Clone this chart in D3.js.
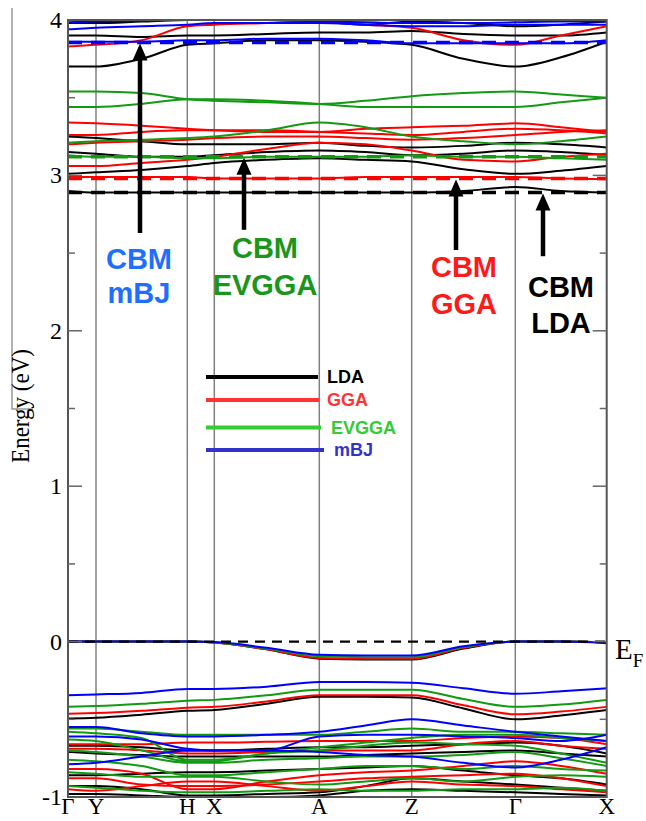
<!DOCTYPE html>
<html><head><meta charset="utf-8">
<script src="https://cdn.jsdelivr.net/npm/d3@7/dist/d3.min.js"></script>
<style>body{margin:0;background:#fff}svg{display:block}</style>
</head><body>
<svg id="chart" width="646" height="821"></svg>
<script>
// ---------- DATA ----------
const kLabels = ["Γ","Y","H","X","A","Z","Γ","X"];
const kTicks  = [0, 28, 119.3, 146.3, 251.3, 343.7, 447.3, 538.7];
// k-points at which band energies are sampled
const kGrid = [0, 28, 73.6, 119.3, 146.3, 198.8, 251.3, 297.5, 343.7, 395.5, 447.3, 493, 538.7];
const yTicks = [-1, 0, 1, 2, 3, 4];

const methods = ["LDA","GGA","EVGGA","mBJ"];
const cbmEnergy = [2.89, 2.98, 3.12, 3.855];

const ldaBands = [
  [-0.98,-0.98,-0.99,-1.0,-1.0,-1.0,-0.99,-0.96,-0.95,-0.96,-0.97,-0.98,-0.99],
  [-0.93,-0.93,-0.95,-0.99,-0.99,-0.98,-0.97,-0.93,-0.88,-0.90,-0.92,-0.94,-0.96],
  [-0.86,-0.86,-0.85,-0.84,-0.84,-0.83,-0.82,-0.81,-0.80,-0.83,-0.86,-0.88,-0.92],
  [-0.71,-0.72,-0.73,-0.74,-0.74,-0.74,-0.74,-0.73,-0.72,-0.71,-0.70,-0.72,-0.74],
  [-0.67,-0.67,-0.68,-0.70,-0.70,-0.69,-0.68,-0.68,-0.67,-0.66,-0.65,-0.67,-0.72],
  [-0.495,-0.49,-0.47,-0.445,-0.44,-0.40,-0.355,-0.355,-0.36,-0.43,-0.50,-0.475,-0.44],
  [0,0,0,0,-0.005,-0.05,-0.11,-0.115,-0.115,-0.045,0,0,-0.005],
  [2.90,2.89,2.89,2.89,2.89,2.89,2.89,2.89,2.89,2.90,2.925,2.90,2.89],
  [3.01,3.02,3.035,3.06,3.08,3.10,3.11,3.10,3.09,3.04,3.01,3.03,3.06],
  [3.15,3.14,3.12,3.12,3.13,3.15,3.16,3.15,3.13,3.14,3.16,3.15,3.13],
  [3.25,3.24,3.22,3.20,3.20,3.20,3.21,3.19,3.18,3.19,3.21,3.20,3.18],
  [3.70,3.70,3.75,3.84,3.85,3.87,3.87,3.86,3.84,3.75,3.70,3.76,3.86],
  [3.90,3.90,3.89,3.90,3.90,3.91,3.92,3.92,3.93,3.91,3.90,3.90,3.92],
  [3.98,3.98,3.99,4.0,4.0,4.0,3.99,3.97,3.99,3.98,3.96,3.97,3.99]
];
const ggaBands = [
  [-0.95,-0.96,-0.93,-0.90,-0.90,-0.93,-0.96,-0.93,-0.90,-0.92,-0.93,-0.95,-0.97],
  [-0.88,-0.88,-0.92,-0.93,-0.93,-0.92,-0.90,-0.88,-0.87,-0.86,-0.85,-0.88,-0.93],
  [-0.82,-0.82,-0.85,-0.95,-0.95,-0.90,-0.86,-0.84,-0.83,-0.80,-0.77,-0.80,-0.85],
  [-0.69,-0.69,-0.70,-0.72,-0.72,-0.71,-0.70,-0.70,-0.70,-0.66,-0.64,-0.67,-0.69],
  [-0.66,-0.66,-0.66,-0.65,-0.65,-0.645,-0.64,-0.64,-0.64,-0.62,-0.61,-0.62,-0.66],
  [-0.465,-0.46,-0.445,-0.425,-0.42,-0.385,-0.345,-0.345,-0.345,-0.41,-0.468,-0.45,-0.42],
  [0,0,0,0,-0.005,-0.05,-0.105,-0.11,-0.11,-0.04,0,0,-0.005],
  [2.99,2.99,2.99,2.99,2.98,2.98,2.98,2.99,2.99,2.99,2.99,2.98,2.975],
  [3.06,3.06,3.08,3.10,3.12,3.17,3.21,3.20,3.16,3.10,3.09,3.12,3.14],
  [3.20,3.21,3.22,3.23,3.24,3.25,3.25,3.24,3.23,3.24,3.26,3.28,3.29],
  [3.26,3.26,3.28,3.29,3.29,3.29,3.28,3.27,3.26,3.28,3.30,3.29,3.27],
  [3.34,3.335,3.32,3.30,3.29,3.28,3.28,3.30,3.31,3.32,3.335,3.31,3.28],
  [3.83,3.84,3.87,3.96,3.97,3.98,3.99,3.97,3.95,3.87,3.84,3.90,3.96]
];
const evggaBands = [
  [-0.93,-0.94,-0.96,-0.97,-0.97,-0.96,-0.95,-0.96,-0.96,-0.95,-0.95,-0.94,-0.96],
  [-0.84,-0.85,-0.87,-0.87,-0.87,-0.90,-0.92,-0.90,-0.88,-0.90,-0.87,-0.86,-0.87],
  [-0.76,-0.77,-0.80,-0.86,-0.86,-0.84,-0.82,-0.80,-0.80,-0.82,-0.80,-0.82,-0.83],
  [-0.70,-0.71,-0.74,-0.78,-0.78,-0.76,-0.75,-0.74,-0.74,-0.73,-0.71,-0.75,-0.80],
  [-0.63,-0.64,-0.70,-0.77,-0.77,-0.72,-0.70,-0.67,-0.65,-0.66,-0.67,-0.72,-0.78],
  [-0.58,-0.59,-0.62,-0.76,-0.76,-0.72,-0.68,-0.65,-0.62,-0.60,-0.60,-0.62,-0.64],
  [-0.56,-0.56,-0.58,-0.60,-0.60,-0.60,-0.60,-0.58,-0.56,-0.58,-0.58,-0.59,-0.60],
  [-0.42,-0.415,-0.40,-0.38,-0.375,-0.345,-0.31,-0.31,-0.31,-0.37,-0.42,-0.405,-0.375],
  [0,0,0,0,-0.005,-0.045,-0.095,-0.10,-0.10,-0.035,0,0,-0.005],
  [3.13,3.12,3.12,3.11,3.11,3.12,3.12,3.12,3.13,3.12,3.12,3.11,3.10],
  [3.21,3.22,3.23,3.24,3.25,3.29,3.34,3.31,3.25,3.22,3.20,3.22,3.25],
  [3.44,3.44,3.46,3.49,3.49,3.48,3.46,3.44,3.44,3.44,3.44,3.47,3.50],
  [3.54,3.54,3.53,3.49,3.48,3.47,3.46,3.48,3.51,3.53,3.54,3.52,3.50]
];
const mbjBands = [
  [-0.79,-0.78,-0.74,-0.70,-0.70,-0.70,-0.71,-0.73,-0.74,-0.78,-0.81,-0.76,-0.68],
  [-0.61,-0.61,-0.63,-0.69,-0.70,-0.70,-0.61,-0.60,-0.60,-0.61,-0.62,-0.64,-0.60],
  [-0.55,-0.55,-0.59,-0.61,-0.61,-0.60,-0.58,-0.54,-0.50,-0.54,-0.58,-0.61,-0.64],
  [-0.345,-0.34,-0.33,-0.305,-0.305,-0.29,-0.26,-0.26,-0.265,-0.30,-0.335,-0.32,-0.30],
  [0,0,0,0,-0.003,-0.04,-0.085,-0.09,-0.09,-0.03,0,0,-0.01],
  [3.86,3.86,3.86,3.87,3.87,3.88,3.88,3.87,3.85,3.85,3.85,3.85,3.87],
  [3.94,3.95,3.96,3.97,3.98,3.98,3.98,3.97,3.96,3.96,3.97,3.97,3.97],
  [3.985,3.99,3.995,4.0,4.0,4.0,3.99,3.985,3.98,3.98,3.985,3.99,3.99]
];

// CBM annotations: k position of arrow, tail energy, label lines
const cbmArrowK    = [475, 388, 176, 72];
const cbmArrowTail = [2.48, 2.52, 2.65, 2.63];
const cbmLabel2    = ["LDA","GGA","EVGGA","mBJ"];

// ---------- STYLE ----------
const bandColors   = ["#000000","#ff0000","#129a12","#0000ff"];
const cbmTextColor = ["#000000","#ff1a1a","#1a961a","#1e6eff"];
const legendColors = ["#000000","#ff3333","#33cc33","#3333cc"];

const svg = d3.select("#chart");
const x = d3.scaleLinear().domain([0, 538.7]).range([68, 606.7]);
const y = d3.scaleLinear().domain([-1, 4]).range([797, 20]);

svg.append("defs").append("clipPath").attr("id","clip")
  .append("rect").attr("x",x(0)).attr("y",y(4)).attr("width",x(538.7)-x(0)).attr("height",y(-1)-y(4));

// high-symmetry vertical lines
svg.append("g").selectAll("line").data(kTicks.slice(1,-1)).join("line")
  .attr("x1",d=>x(d)).attr("x2",d=>x(d)).attr("y1",y(4)).attr("y2",y(-1))
  .attr("stroke","#808080").attr("stroke-width",1.5);

// bands
const line = d3.line().x((d,i)=>x(kGrid[i])).y(d=>y(d)).curve(d3.curveMonotoneX);
const bandSets = [ldaBands, ggaBands, evggaBands, mbjBands];
const gb = svg.append("g").attr("clip-path","url(#clip)");
bandSets.forEach((set,mi)=>{
  gb.append("g").selectAll("path").data(set).join("path")
    .attr("d",line).attr("fill","none").attr("stroke",bandColors[mi]).attr("stroke-width",2);
});
// CBM dashed levels
gb.append("g").selectAll("line").data(cbmEnergy).join("line")
  .attr("x1",x(0)).attr("x2",x(538.7)).attr("y1",d=>y(d)).attr("y2",d=>y(d))
  .attr("stroke",(d,i)=>bandColors[i]).attr("stroke-width",3.5).attr("stroke-dasharray","14,9");
// Fermi level
gb.append("line").attr("x1",x(0)).attr("x2",x(538.7)).attr("y1",y(0)).attr("y2",y(0))
  .attr("stroke","#000").attr("stroke-width",2.2).attr("stroke-dasharray","10,7");

// frame
svg.append("rect").attr("x",x(0)).attr("y",y(4)).attr("width",x(538.7)-x(0)).attr("height",y(-1)-y(4))
  .attr("fill","none").attr("stroke","#555").attr("stroke-width",2);

// inner ticks
const tickVals = d3.range(-0.5, 4, 0.5);
const gt = svg.append("g").attr("stroke","#666").attr("stroke-width",1.5);
tickVals.forEach(v=>{
  const len = Number.isInteger(v) ? 14 : 7;
  gt.append("line").attr("x1",x(0)).attr("x2",x(0)+len).attr("y1",y(v)).attr("y2",y(v));
  gt.append("line").attr("x1",x(538.7)-len).attr("x2",x(538.7)).attr("y1",y(v)).attr("y2",y(v));
});

// y tick labels
svg.append("g").selectAll("text").data(yTicks).join("text")
  .attr("x",62).attr("y",d=>y(d)+8).attr("text-anchor","end")
  .attr("font-family","'Liberation Serif', serif").attr("font-size",24)
  .text(d=>d);

// x labels
svg.append("g").selectAll("text").data(kTicks).join("text")
  .attr("x",d=>x(d)).attr("y",814).attr("text-anchor","middle")
  .attr("font-family","'Liberation Serif', serif").attr("font-size",23)
  .text((d,i)=>kLabels[i]);

// y axis title and left edge line
svg.append("path").attr("d","M12,8 V409 H33").attr("fill","none").attr("stroke","#999").attr("stroke-width",1.5);
svg.append("text").attr("transform","translate(29,406) rotate(-90) scale(1,1.1)").attr("text-anchor","middle")
  .attr("font-family","'Liberation Serif', serif").attr("font-size",23).text("Energy (eV)");

// E_F label
const ef = svg.append("text").attr("x",615).attr("y",y(0)+17)
  .attr("font-family","'Liberation Serif', serif").attr("font-size",29);
ef.append("tspan").text("E");
ef.append("tspan").attr("font-size",19).attr("dy",8).text("F");

// legend
const lgY = [377, 400, 427.5, 450];
const lgTx = [327, 327, 331, 334];
const lgEnd = [318, 319, 321, 324];
const lg = svg.append("g");
methods.forEach((m,i)=>{
  lg.append("line").attr("x1",206).attr("x2",lgEnd[i]).attr("y1",lgY[i]).attr("y2",lgY[i])
    .attr("stroke",legendColors[i]).attr("stroke-width",4);
  lg.append("text").attr("x",lgTx[i]).attr("y",lgY[i]+6)
    .attr("font-family","'Liberation Sans', Arial, sans-serif").attr("font-weight","bold").attr("font-size",18)
    .attr("fill",legendColors[i]).text(m);
});

// CBM arrows + labels
const ga = svg.append("g");
methods.forEach((m,i)=>{
  const xx = x(cbmArrowK[i]);
  const tip = y(cbmEnergy[i]) + 1;
  const tail = y(cbmArrowTail[i]);
  ga.append("line").attr("x1",xx).attr("x2",xx).attr("y1",tail).attr("y2",tip+14)
    .attr("stroke","#000").attr("stroke-width",4.5);
  ga.append("path").attr("d",`M${xx},${tip} L${xx-7.5},${tip+17} L${xx+7.5},${tip+17} Z`).attr("fill","#000");
});
const lblX = [561, 464, 265, 139];
const lblY1 = [297, 277, 258, 269];
const lblY2 = [333, 314, 295, 303];
methods.forEach((m,i)=>{
  const t = svg.append("g").attr("fill",cbmTextColor[i])
    .attr("font-family","'Liberation Sans', Arial, sans-serif").attr("font-weight","bold").attr("font-size",29)
    .attr("text-anchor","middle");
  t.append("text").attr("x",lblX[i]).attr("y",lblY1[i]).text("CBM");
  t.append("text").attr("x",lblX[i]).attr("y",lblY2[i]).text(cbmLabel2[i]);
});
</script>
</body></html>
